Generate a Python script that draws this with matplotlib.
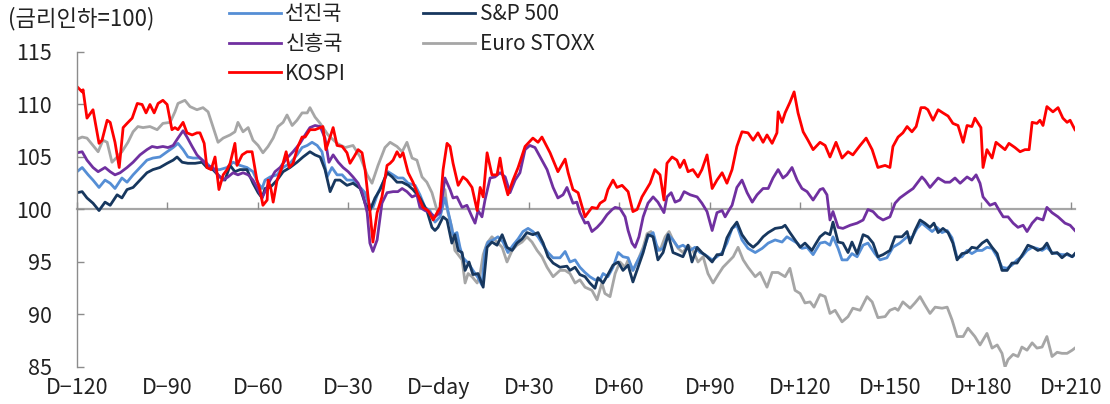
import matplotlib
matplotlib.use('Agg')
import matplotlib.pyplot as plt

plt.rcParams['font.family'] = ['Noto Sans CJK KR', 'DejaVu Sans']

# =============================================================================
# Data (days from rate cut, index with rate cut day = 100)
# =============================================================================
kospi_day = [-120, -118.3, -118, -116.7, -114.7, -112.7, -111.7, -110, -109, -107.4, -106, -104.7,
             -103.4, -101.7, -100, -98.4, -97.1, -95.8, -94.4, -93.1, -91.5, -90.1, -88.5, -87.5,
             -86.5, -84.8, -83.5, -81.8, -80.2, -79.2, -77.8, -76.9, -75.5, -74.2, -72.9, -71.5,
             -70.2, -69.2, -67.6, -66.9, -65.2, -63.6, -61.9, -60.3, -59.3, -58.3, -56.9, -56.6,
             -55.6, -54.9, -53.6, -52, -50.6, -49.6, -48.3, -46.7, -45.3, -44.3, -42.7, -41,
             -39.3, -38.4, -37.4, -36, -35, -33.7, -32, -30.4, -29.4, -28.1, -26.7, -25.4,
             -24.4, -23.4, -22.8, -21.8, -20.4, -18.8, -17.1, -16.1, -15.1, -13.8, -12.8, -11.8,
             -10.1, -8.5, -6.2, -5.2, -3.5, -1.8, -0.5, 0.5, 1.5, 2.8, 3.8, 4.8,
             6.5, 8.1, 9.4, 11.1, 12.8, 13.8, 14.8, 16.1, 17.7, 19.4, 20.4, 21.4,
             23, 24.7, 26.4, 28.7, 31.3, 33, 34.3, 37, 39.6, 42, 43, 44.6,
             46.3, 48.6, 49.6, 50.9, 52.6, 53.6, 55.2, 56.2, 57.9, 59.2, 60.9, 62.9,
             64.5, 65.9, 67.5, 70.2, 71.8, 73.5, 74.8, 75.8, 77.5, 79.1, 80.1, 81.5,
             82.8, 84.4, 86.1, 87.4, 89.1, 90.8, 92.4, 94.1, 95.7, 97.4, 99, 100.7,
             102.7, 104.4, 106, 107.7, 109, 110.7, 112.3, 112.7, 114, 115, 116.6, 118,
             119.3, 121, 122.6, 124.3, 126.6, 128.3, 129.9, 131.9, 133.9, 135.9, 137.5, 139.9,
             141.9, 143.9, 145.8, 148.2, 149.8, 150.8, 152.5, 154.1, 155.5, 157.1, 158.5, 160.1,
             161.4, 162.4, 164.1, 165.8, 167.4, 169.1, 170.7, 172.4, 174.1, 175.4, 177, 178,
             180, 180.7, 182, 183.7, 185, 186.3, 188, 189.3, 191.3, 193, 194.6, 196,
             197, 198.6, 199.6, 200.6, 201.9, 203.9, 205.6, 207.2, 208.6, 209.6, 211.2]
kospi = [111.7, 111.2, 111.4, 108.7, 109.5, 106.3, 106.6, 108.5, 108.3, 106.4, 104.0, 107.8,
         108.2, 108.7, 110.1, 110.0, 109.2, 110.0, 109.2, 110.1, 110.4, 110.0, 107.6, 107.8,
         107.6, 108.3, 107.3, 107.1, 107.3, 107.3, 106.3, 104.0, 103.8, 105.0, 101.9, 103.3,
         103.8, 104.4, 106.3, 104.2, 105.2, 105.5, 105.5, 102.8, 101.9, 100.4, 100.9, 102.8,
         101.9, 100.7, 102.8, 104.0, 105.5, 104.0, 104.4, 106.0, 106.9, 106.9, 107.6, 107.6,
         107.8, 107.9, 105.7, 106.9, 107.8, 106.1, 106.0, 105.4, 104.4, 105.0, 105.7, 105.4,
         103.8, 101.2, 99.9, 96.9, 99.7, 101.2, 104.2, 104.4, 104.7, 105.5, 105.0, 105.4,
         103.5, 102.6, 100.9, 100.2, 99.9, 99.0, 99.7, 100.2, 103.8, 106.3, 106.0, 104.4,
         102.3, 103.1, 102.8, 102.1, 99.9, 102.1, 101.2, 105.4, 103.3, 103.3, 104.9, 103.1,
         101.4, 102.8, 104.0, 106.0, 106.8, 106.4, 106.9, 105.4, 103.6, 104.8, 103.5, 101.9,
         101.6, 99.3, 99.7, 100.2, 100.1, 100.6, 100.9, 101.9, 102.8, 102.1, 102.3, 101.7,
         99.8, 100.0, 101.2, 102.5, 103.8, 103.3, 100.9, 104.4, 105.0, 104.7, 104.0, 104.7,
         103.6, 103.8, 103.1, 103.8, 105.2, 102.0, 102.8, 103.5, 102.5, 103.8, 106.0, 107.4,
         107.3, 106.6, 107.3, 106.4, 107.1, 106.3, 107.3, 109.3, 108.3, 109.2, 110.2, 111.2,
         109.2, 107.4, 106.6, 105.7, 106.4, 106.1, 105.0, 106.4, 104.9, 105.5, 105.2, 106.1,
         106.8, 105.7, 104.0, 104.2, 104.0, 106.0, 106.9, 107.3, 107.9, 107.4, 107.9, 109.7,
         109.7, 109.5, 108.5, 109.5, 109.2, 108.9, 108.2, 108.0, 106.4, 108.0, 107.9, 108.7,
         107.8, 104.0, 105.7, 104.9, 106.4, 106.1, 105.7, 106.3, 105.9, 105.5, 105.7, 105.7,
         108.3, 108.2, 108.5, 108.0, 109.8, 109.3, 109.7, 108.7, 108.3, 108.5, 107.6]

em_day = [-120, -118.3, -116.7, -114.7, -113, -110.7, -109, -107.4, -105.7, -103.4, -101.4, -99.1,
          -96.8, -95.1, -93.4, -91.5, -89.8, -88.1, -86.5, -84.8, -83.5, -81.8, -80.2, -78.5,
          -76.9, -74.9, -73.2, -71.5, -69.9, -68.2, -66.6, -64.9, -63.2, -61.6, -59.9, -58.6,
          -57.6, -55.9, -54.3, -52.6, -50.3, -48.3, -46, -44.3, -42.7, -41, -39.3, -37.7,
          -36.4, -35, -33.3, -31.7, -30, -28.4, -26.7, -25.1, -23.7, -22.8, -21.8, -20.4,
          -18.8, -17.1, -15.1, -13.5, -12.1, -10.5, -8.8, -7.2, -6.2, -4.5, -2.9, -1.2,
          0.5, 2.1, 3.8, 4.8, 6.1, 7.8, 9.4, 11.1, 12.1, 13.1, 14.4, 15.4,
          17.1, 18.7, 20.4, 22.1, 23.7, 25.4, 27, 28.7, 30.3, 32, 33.7, 36,
          38, 39.6, 41.3, 42.6, 44.6, 45.9, 46.9, 48.6, 49.6, 50.9, 52.6, 54.2,
          55.9, 57.6, 58.6, 60.2, 61.9, 62.9, 64.2, 65.2, 66.5, 67.9, 69.5, 71.2,
          72.8, 74.8, 75.8, 77.2, 78.5, 80.1, 81.5, 83.5, 85.8, 87.4, 89.1, 90.8,
          92.4, 94.1, 95.1, 96.1, 97.4, 99, 100.7, 102.4, 104.1, 105.7, 107.7, 109.4,
          111, 112.7, 114.3, 115.6, 117.3, 119, 120.6, 122.3, 124.3, 126.6, 127.6, 128.9,
          129.9, 130.9, 132.6, 134.2, 136.6, 138.9, 140.9, 142.5, 144.2, 145.8, 147.5, 149.8,
          151.5, 153.1, 155.5, 157.5, 159.1, 160.4, 161.4, 163.1, 165.8, 168.1, 169.7, 171.4,
          173.1, 175.4, 177, 178.4, 179.7, 180.7, 183, 184.7, 186.3, 187.4, 189, 190.7,
          192.3, 194, 195.3, 197, 198.6, 200.6, 201.9, 203.6, 205.6, 207.9, 209.6, 211.2]
em = [105.4, 105.5, 104.7, 104.0, 103.6, 104.0, 103.6, 103.3, 103.5, 104.0, 104.5, 105.2,
      105.7, 106.0, 105.9, 106.0, 105.9, 106.1, 106.8, 107.5, 106.9, 106.0, 105.2, 104.7,
      104.2, 104.0, 103.3, 102.8, 103.1, 103.5, 103.3, 103.5, 103.3, 102.8, 101.9, 101.1,
      101.7, 102.8, 103.6, 104.0, 104.9, 105.5, 106.3, 107.1, 107.8, 108.0, 107.9, 106.8,
      104.5, 105.2, 104.5, 104.0, 103.6, 103.1, 102.5, 101.4, 99.7, 96.8, 96.0, 97.1,
      100.6, 101.6, 101.7, 101.7, 102.0, 101.7, 101.2, 101.4, 100.2, 99.9, 99.7, 99.3,
      99.7, 103.0, 101.9, 101.1, 101.2, 100.2, 100.4, 99.3, 98.7, 99.9, 99.3, 100.9,
      103.0, 103.1, 103.5, 103.1, 101.6, 102.8, 103.5, 105.7, 106.1, 105.9, 105.0, 103.8,
      102.1, 101.1, 101.4, 102.1, 100.6, 100.7, 99.7, 98.7, 98.8, 97.9, 98.3, 98.8,
      99.5, 100.0, 100.2, 100.1, 99.3, 98.0, 96.8, 96.4, 97.4, 99.3, 100.6, 101.2,
      100.7, 99.7, 101.2, 101.6, 100.7, 100.9, 101.7, 101.4, 101.2, 100.6, 99.8, 98.0,
      99.7, 99.9, 99.3, 99.8, 100.4, 102.1, 102.8, 101.6, 100.7, 101.4, 102.0, 102.0,
      103.0, 103.8, 103.0, 103.3, 104.0, 102.8, 102.0, 101.7, 100.9, 101.9, 102.0, 101.4,
      99.0, 99.8, 98.3, 98.2, 98.5, 98.7, 99.0, 100.0, 99.8, 99.3, 99.0, 99.3,
      100.6, 101.1, 101.6, 102.0, 102.6, 103.1, 102.8, 102.1, 103.0, 102.6, 102.6, 103.0,
      102.5, 103.1, 102.8, 103.3, 102.5, 101.2, 100.4, 100.6, 99.8, 99.3, 99.3, 98.7,
      98.3, 98.5, 97.9, 98.7, 99.2, 99.0, 100.2, 99.7, 99.3, 98.7, 98.5, 98.0]

dm_day = [-120, -118.3, -116.3, -114.7, -112.7, -110.7, -109, -107.4, -105.1, -103.4, -101.4, -99.1,
          -96.8, -94.8, -92.5, -90.1, -88.1, -86.5, -84.8, -83.2, -81.5, -79.2, -76.9, -74.9,
          -72.6, -70.2, -68.2, -65.9, -63.6, -61.6, -59.9, -58.6, -57.6, -55.9, -53.6, -51.6,
          -49.3, -47, -45.3, -43.6, -42, -40.3, -38.7, -37, -35.4, -33.7, -32, -30.4,
          -28.4, -26, -24.4, -23.4, -21.8, -20.1, -18.4, -16.8, -15.1, -13.5, -11.8, -10.1,
          -7.8, -6.2, -4.5, -2.9, -1.2, 0.5, 2.1, 3.8, 4.8, 6.1, 7.1, 8.1,
          9.8, 11.4, 13.1, 14.4, 15.4, 16.4, 18.1, 19.7, 21.4, 23, 24.7, 26.4,
          28, 29.7, 31.3, 33, 34.7, 36.3, 38, 40.3, 42, 43.6, 45.3, 46.9,
          48.6, 50.2, 51.9, 53.6, 54.6, 56.2, 57.9, 59.6, 61.2, 62.9, 64.5, 66.2,
          67.9, 69.5, 71.2, 72.8, 74.5, 76.2, 77.8, 79.5, 81.1, 83.5, 85.1, 86.8,
          88.4, 90.8, 92.4, 94.1, 95.7, 97.4, 99, 100.7, 102.7, 105.1, 107.4, 109.4,
          111.7, 114, 115.6, 117.3, 119, 120.6, 122.3, 124.3, 126.6, 128.3, 129.9, 130.9,
          132.6, 133.9, 135.6, 137.2, 138.9, 140.9, 142.5, 144.8, 146.5, 148.8, 150.8, 153.1,
          155.5, 157.1, 158.8, 160.4, 162.1, 163.8, 165.4, 167.1, 168.8, 170.4, 172.1, 173.7,
          175.4, 177, 178.7, 180.4, 182, 183.7, 185.4, 187, 188.7, 190.3, 192, 193.6,
          195.3, 197, 198.6, 200.3, 201.9, 203.6, 205.3, 206.9, 208.6, 210.3, 211.2]
dm = [103.6, 104.0, 103.3, 102.8, 102.1, 102.8, 102.5, 102.0, 103.0, 102.6, 103.3, 104.0,
      104.7, 104.9, 105.0, 105.5, 105.9, 106.3, 105.7, 105.0, 104.9, 104.9, 104.4, 103.8,
      103.8, 104.0, 104.5, 104.2, 104.0, 103.6, 102.5, 102.0, 102.8, 103.1, 103.3, 104.0,
      104.4, 105.2, 105.9, 106.1, 106.4, 106.1, 105.5, 103.1, 104.0, 103.3, 103.3, 102.8,
      102.8, 102.1, 101.6, 100.6, 100.2, 101.6, 102.6, 103.6, 103.3, 103.0, 103.0, 102.5,
      102.3, 101.4, 100.2, 99.9, 98.8, 99.3, 101.1, 99.0, 97.6, 97.8, 96.4, 95.4,
      94.9, 94.2, 93.5, 92.8, 96.1, 96.9, 97.1, 97.4, 96.9, 95.9, 96.6, 97.2,
      97.9, 98.2, 97.9, 97.4, 96.6, 95.9, 95.4, 95.4, 96.0, 95.0, 95.2, 94.5,
      94.0, 93.6, 93.3, 93.3, 93.9, 93.6, 94.5, 95.9, 95.5, 95.4, 94.2, 95.2,
      96.1, 97.4, 97.8, 96.1, 96.3, 97.6, 97.1, 96.4, 96.6, 96.1, 96.4, 95.9,
      95.7, 95.2, 95.5, 95.9, 96.8, 98.2, 98.5, 97.1, 96.3, 95.9, 96.3, 96.8,
      97.1, 96.9, 97.4, 97.1, 96.8, 96.3, 96.4, 95.7, 96.8, 96.9, 96.6, 97.4,
      96.3, 95.2, 95.2, 95.8, 95.5, 96.6, 96.8, 95.8, 95.2, 95.4, 96.4, 96.8,
      97.4, 97.3, 98.2, 98.7, 98.3, 97.9, 98.3, 97.8, 98.0, 97.3, 95.4, 95.5,
      96.1, 95.8, 96.1, 96.1, 96.4, 96.3, 95.5, 94.5, 94.4, 94.7, 95.2, 95.5,
      96.1, 96.4, 96.3, 96.1, 96.4, 95.9, 95.8, 95.7, 95.7, 95.5, 95.7]

sp_day = [-120, -118.3, -116.7, -114.7, -112.7, -110.7, -109, -106.7, -105.1, -103.4, -101.4, -99.1,
          -96.8, -94.8, -92.5, -90.1, -88.1, -86.8, -85.1, -83.2, -80.8, -78.5, -76.9, -74.9,
          -72.6, -70.9, -69.2, -67.6, -65.9, -63.6, -61.6, -59.9, -58.6, -57.6, -55.9, -53.6,
          -51.6, -49.3, -47, -45, -42.7, -41, -39.3, -37.7, -36, -34.3, -32.7, -30.4,
          -28.4, -26, -24.4, -22.8, -21.1, -19.4, -17.1, -15.4, -13.8, -12.1, -10.1, -8.5,
          -6.2, -3.9, -2.2, -1.2, -0.2, 1.5, 2.8, 4.4, 5.4, 6.5, 7.8, 8.8,
          10.1, 11.4, 13.1, 14.8, 16.1, 17.7, 19.4, 21.1, 22.7, 24.4, 26, 27.7,
          29.3, 31.3, 33, 34.7, 36.3, 38, 40.3, 42.6, 43.6, 45.3, 46.9, 48.6,
          50.2, 51.9, 52.9, 54.6, 56.2, 57.9, 59.6, 61.2, 62.9, 64.5, 66.2, 67.9,
          69.5, 71.2, 72.8, 74.5, 76.2, 77.8, 79.5, 81.1, 82.8, 84.1, 85.8, 87.4,
          89.1, 90.8, 92.4, 94.1, 95.7, 97.4, 99, 100.7, 102.7, 104.4, 106, 107.7,
          109.4, 111.7, 114, 115, 116.6, 118.3, 120, 121.6, 123.9, 124.9, 126.6, 128.3,
          129.9, 130.9, 132.6, 134.2, 135.9, 137.2, 138.9, 140.9, 142.5, 144.2, 145.8, 147.5,
          149.8, 151.5, 153.8, 155.5, 156.5, 158.1, 159.8, 161.4, 163.1, 164.4, 165.8, 167.4,
          169.1, 170.7, 172.1, 173.7, 175.4, 177, 178.7, 180.4, 182, 183.7, 185.4, 187,
          188.7, 190.3, 192, 194, 195.6, 197.3, 198.9, 200.6, 201.9, 203.6, 205.3, 206.9,
          208.6, 210.3, 211.2]
sp = [101.6, 101.7, 101.1, 100.6, 99.9, 100.7, 100.4, 101.4, 101.1, 101.9, 102.1, 102.8,
      103.5, 103.8, 104.0, 104.4, 104.7, 105.0, 104.5, 104.4, 104.4, 104.5, 104.0, 103.8,
      103.1, 102.8, 104.2, 103.6, 103.8, 103.8, 102.5, 101.6, 101.1, 102.0, 102.1, 102.8,
      103.6, 104.0, 104.5, 105.0, 105.5, 105.2, 105.0, 103.8, 101.7, 102.8, 102.8, 102.3,
      102.5, 102.0, 100.6, 99.9, 101.1, 101.9, 103.5, 103.1, 102.6, 102.6, 102.3, 101.9,
      101.1, 99.9, 98.3, 98.0, 98.3, 99.3, 99.0, 96.8, 97.6, 96.1, 95.9, 94.2,
      95.0, 93.8, 93.9, 92.6, 96.4, 96.9, 96.6, 97.6, 96.4, 96.1, 96.8, 97.2,
      97.8, 97.6, 97.8, 96.8, 95.5, 94.9, 94.5, 94.6, 94.2, 94.5, 93.8, 93.6,
      93.0, 92.5, 93.5, 93.0, 93.8, 94.7, 95.0, 94.2, 94.7, 93.1, 94.5, 95.9,
      97.6, 97.4, 95.2, 95.9, 97.6, 95.9, 95.7, 95.5, 96.6, 95.0, 96.4, 95.9,
      95.5, 95.0, 95.7, 95.7, 97.3, 98.2, 98.8, 97.6, 96.8, 96.4, 96.8, 97.4,
      97.8, 98.2, 98.3, 98.5, 97.8, 97.1, 96.4, 96.8, 96.1, 96.6, 97.4, 97.8,
      97.6, 98.8, 96.9, 96.8, 95.9, 96.9, 95.8, 97.6, 97.4, 96.8, 95.5, 95.7,
      96.1, 97.4, 97.4, 97.9, 96.8, 98.0, 99.0, 98.7, 98.3, 98.7, 97.8, 98.2,
      97.8, 96.8, 95.2, 95.8, 95.9, 96.4, 96.3, 96.8, 97.1, 96.4, 95.8, 94.2,
      94.2, 94.9, 94.9, 95.8, 96.6, 96.4, 96.1, 96.3, 96.8, 95.8, 95.9, 95.4,
      95.8, 95.5, 95.8]

eu_day = [-120, -118.3, -116.7, -114.7, -113, -111.4, -110, -108.4, -106.7, -105.1, -103.1, -101.4,
          -99.8, -98.1, -95.8, -93.4, -91.5, -89.1, -87.5, -86.5, -84.2, -82.5, -80.2, -78.2,
          -76.5, -74.9, -73.2, -71.5, -69.2, -67.6, -66.6, -64.9, -63.2, -61.6, -59.9, -58.3,
          -56.6, -54.9, -53.3, -51.6, -50.3, -48.6, -47, -45.3, -43.6, -42.7, -41, -39.3,
          -36.7, -33.7, -31, -28.4, -26, -23.7, -22.1, -20.1, -17.8, -16.1, -13.8, -12.1,
          -10.5, -8.8, -7.2, -5.5, -3.9, -2.2, -0.5, 1.1, 2.1, 3.1, 4.4, 5.4,
          6.5, 7.8, 8.8, 9.8, 11.1, 12.8, 13.8, 14.8, 16.1, 17.7, 19.4, 21.1,
          22.7, 24.4, 26, 27.7, 29.3, 31, 32.7, 34.3, 36, 38, 40.3, 42,
          43.6, 45.3, 46.9, 48.6, 50.9, 52.6, 54.2, 55.2, 56.9, 58.6, 60.2, 61.9,
          62.9, 64.5, 66.2, 67.9, 69.2, 70.5, 71.8, 73.5, 75.2, 76.5, 77.8, 79.5,
          81.1, 82.8, 84.4, 86.1, 87.8, 89.4, 91.1, 92.8, 94.4, 96.1, 97.8, 99.4,
          101.1, 102.7, 105.1, 106.7, 109, 110.7, 112.7, 115, 116.6, 118.3, 120, 121.6,
          123.3, 124.6, 126.6, 128.3, 129.9, 131.6, 133.9, 135.9, 137.5, 139.9, 142.2, 143.9,
          145.8, 148.2, 149.8, 151.5, 152.5, 154.1, 156.5, 158.1, 159.8, 161.4, 163.1, 164.8,
          167.1, 168.8, 170.4, 172.1, 174.1, 175.7, 178, 179.7, 182, 183.7, 185.4, 187,
          188, 189, 190.7, 192.3, 193.6, 195.3, 197, 198.6, 200.3, 201.9, 203.6, 205.3,
          206.9, 208.6, 210.3, 211.2]
eu = [106.7, 106.9, 106.8, 106.1, 105.5, 106.6, 106.4, 104.5, 105.0, 105.5, 106.4, 107.4,
      107.9, 107.8, 107.9, 107.6, 108.2, 108.3, 109.3, 110.1, 110.4, 109.8, 109.5, 109.7,
      109.3, 107.9, 106.4, 106.8, 107.1, 107.4, 108.3, 107.4, 107.8, 106.6, 106.1, 105.4,
      106.0, 106.8, 107.9, 108.3, 109.0, 108.0, 108.5, 109.2, 109.2, 109.7, 108.8, 108.2,
      107.1, 106.3, 105.9, 106.1, 105.0, 103.3, 102.5, 104.2, 105.9, 106.4, 106.0, 105.5,
      106.4, 104.9, 104.7, 103.1, 102.6, 101.6, 99.9, 100.2, 101.9, 99.7, 98.3, 96.1,
      95.7, 95.2, 93.0, 93.9, 93.6, 93.0, 93.9, 95.7, 96.8, 97.4, 96.9, 96.4,
      95.0, 96.1, 96.6, 96.9, 97.4, 96.9, 96.1, 95.5, 94.5, 93.6, 94.2, 94.2,
      93.9, 93.0, 93.3, 92.6, 92.3, 91.4, 93.0, 92.0, 91.7, 93.9, 95.0, 94.5,
      95.2, 94.2, 95.2, 96.4, 97.7, 97.9, 96.8, 96.1, 97.4, 97.9, 97.1, 96.3,
      95.9, 96.6, 96.1, 95.0, 95.5, 93.9, 93.0, 93.8, 94.5, 95.0, 95.5, 96.4,
      95.2, 94.5, 93.6, 94.0, 92.6, 94.0, 94.0, 93.6, 94.4, 92.3, 92.0, 91.1,
      91.2, 90.7, 91.9, 91.7, 90.1, 90.4, 89.3, 89.8, 90.6, 90.4, 91.7, 91.2,
      89.7, 89.8, 90.4, 90.6, 90.4, 91.2, 90.6, 91.1, 91.7, 90.9, 90.1, 90.7,
      90.6, 90.7, 89.5, 87.9, 87.9, 88.7, 87.9, 87.1, 88.2, 86.8, 87.1, 86.3,
      85.0, 85.7, 86.2, 86.0, 86.9, 86.6, 87.3, 86.8, 86.9, 87.9, 86.0, 86.4,
      86.3, 86.3, 86.6, 86.8]

tick_days = [-120, -90, -60, -30, 0, 30, 60, 90, 120, 150, 180, 210]
tick_labels = ['D−120', 'D−90', 'D−60', 'D−30', 'D−day', 'D+30',
               'D+60', 'D+90', 'D+120', 'D+150', 'D+180', 'D+210']
y_ticks = [85, 90, 95, 100, 105, 110, 115]

# =============================================================================
# Plotting
# =============================================================================
fig = plt.figure(figsize=(11.1, 4.04), dpi=100)
ax = fig.add_axes([0.0694, 0.0916, 0.899, 0.7797])

axis_grey = '#A6A6A6'
lw = 2.0
h_eu, = ax.plot(eu_day, eu, color='#A6A6A6', lw=lw, label='Euro STOXX')
h_dm, = ax.plot(dm_day, dm, color='#558ED5', lw=lw, label='선진국')
h_sp, = ax.plot(sp_day, sp, color='#17375E', lw=lw, label='S&P 500')
h_em, = ax.plot(em_day, em, color='#7030A0', lw=lw, label='신흥국')
h_ks, = ax.plot(kospi_day, kospi, color='#FF0000', lw=lw, label='KOSPI')

ax.set_xlim(-120, 211.2)
ax.set_ylim(85, 115)

# Box off, x axis on the 100 line
ax.spines['top'].set_visible(False)
ax.spines['right'].set_visible(False)
ax.spines['left'].set_color('#8C8C8C')
ax.spines['left'].set_linewidth(1.0)
ax.spines['bottom'].set_position(('data', 100))
ax.spines['bottom'].set_color(axis_grey)
ax.spines['bottom'].set_linewidth(1.6)
ax.spines['bottom'].set_zorder(1)

ax.set_xticks(tick_days)
ax.tick_params(axis='x', direction='in', length=5, width=1, color='#8C8C8C',
               labelbottom=False)
ax.set_yticks(y_ticks)
ax.tick_params(axis='y', direction='in', length=5, width=1, color='#8C8C8C',
               labelsize=15.5, pad=18, labelcolor='#222222')

# Labels of x axis at the bottom
sec = ax.secondary_xaxis('bottom')
sec.set_xticks(tick_days, tick_labels)
sec.spines['bottom'].set_visible(False)
sec.tick_params(length=0, labelsize=15.5, pad=7, labelcolor='#222222')

fig.text(0.007, 0.955, '(금리인하=100)', fontsize=16, color='#222222', va='center')

lgd = fig.legend(handles=[h_dm, h_em, h_ks, h_sp, h_eu], ncol=2,
                 loc='upper left', bbox_to_anchor=(0.2045, 0.997),
                 fontsize=15, frameon=False, handlelength=2.5, handletextpad=0.2,
                 columnspacing=3.7, labelspacing=0.37, borderpad=0.1,
                 borderaxespad=0)
for t in lgd.get_texts():
    t.set_color('#222222')

fig.savefig('out.png', dpi=100)
